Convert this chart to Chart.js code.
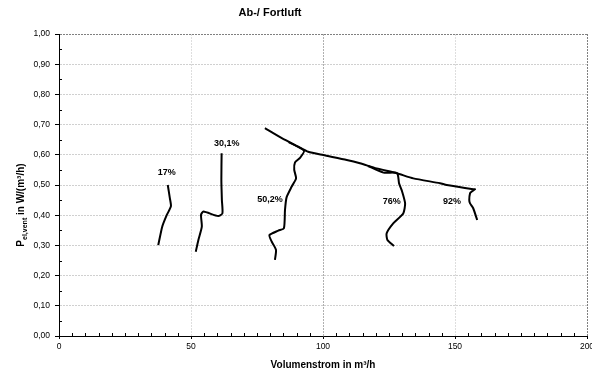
<!DOCTYPE html>
<html>
<head>
<meta charset="utf-8">
<script src="https://cdn.jsdelivr.net/npm/chart.js@4"></script>
<style>body{margin:0;background:#fff}</style>
</head>
<body>
<canvas id="chart" width="592" height="372"></canvas>
<script>
// kurven (x = Volumenstrom m3/h, y = W/(m3/h))
var curve17X = [41.2, 42.0, 42.4, 40.8, 39.1, 37.6];
var curve17Y = [0.500, 0.456, 0.430, 0.400, 0.362, 0.301];

var curve30X = [61.6, 61.5, 61.7, 61.9, 60.3, 54.7, 53.8, 54.1, 52.8, 51.8];
var curve30Y = [0.605, 0.517, 0.450, 0.406, 0.397, 0.412, 0.401, 0.362, 0.318, 0.279];

var curve50X = [87.0, 92.8, 91.3, 89.4, 89.1, 89.8, 88.1, 86.2, 85.6, 85.2, 83.1, 79.7, 80.6, 82.2, 81.8];
var curve50Y = [0.642, 0.614, 0.590, 0.575, 0.550, 0.522, 0.494, 0.459, 0.417, 0.357, 0.349, 0.334, 0.312, 0.285, 0.252];

var curve76X = [117.0, 122.9, 126.6, 128.1, 128.5, 128.8, 129.8, 131.1, 130.4, 126.6, 124.1, 124.4, 126.9];
var curve76Y = [0.563, 0.541, 0.541, 0.539, 0.527, 0.506, 0.483, 0.439, 0.406, 0.373, 0.340, 0.318, 0.298];

// obere grenzkurve, geht am ende in die 92%-kurve ueber
var curve92X = [78.0, 84.4, 90.6, 94.4, 100.1, 109.0, 114.0, 120.3, 127.9, 134.2, 144.3, 146.9, 156.9, 157.6, 156.3, 155.7, 155.4, 155.7, 156.9, 158.4];
var curve92Y = [0.688, 0.655, 0.627, 0.610, 0.599, 0.583, 0.572, 0.555, 0.539, 0.522, 0.506, 0.500, 0.486, 0.486, 0.478, 0.473, 0.450, 0.439, 0.423, 0.384];

var curveLabels = ["17%", "30,1%", "50,2%", "76%", "92%"];
var labelX = [40.8, 63.5, 79.9, 126.0, 148.9];
var labelY = [0.540, 0.638, 0.453, 0.445, 0.445];

var xTickStep = 50;
var yTickStep = 0.1;

function toPoints(xs, ys) {
    var pts = [];
    for (var i = 0; i < xs.length; i++) {
        pts.push({x: xs[i], y: ys[i]});
    }
    return pts;
}

function makeSet(label, xs, ys) {
    return {
        label: label,
        data: toPoints(xs, ys),
        showLine: true,
        borderColor: '#000',
        borderWidth: 2,
        pointRadius: 0,
        tension: 0.2
    };
}

const FONT = '"Liberation Sans", Arial, sans-serif';

// texte: titel, achsentitel, kurvenbeschriftung, kleine teilstriche
const textPlugin = {
    id: 'texts',
    afterDraw(chart) {
        const ctx = chart.ctx;
        const xs = chart.scales.x, ys = chart.scales.y;
        const area = chart.chartArea;
        ctx.save();
        ctx.fillStyle = '#000';
        ctx.strokeStyle = '#000';
        ctx.lineWidth = 1;
        ctx.setLineDash([]);

        // minor ticks
        ctx.beginPath();
        for (var v = 5; v < 200; v += 5) {
            if (v % 50 === 0) continue;
            var px = Math.round(xs.getPixelForValue(v)) + 0.5;
            ctx.moveTo(px, area.bottom);
            ctx.lineTo(px, area.bottom - 3);
        }
        for (var k = 1; k < 20; k += 2) {
            var py = Math.round(ys.getPixelForValue(k * 0.05)) + 0.5;
            ctx.moveTo(area.left, py);
            ctx.lineTo(area.left + 3, py);
        }
        ctx.stroke();

        // chart title
        ctx.textAlign = 'center';
        ctx.textBaseline = 'middle';
        ctx.font = 'bold 11px ' + FONT;
        ctx.fillText('Ab-/ Fortluft', 270, 13);

        // x title
        ctx.font = 'bold 10px ' + FONT;
        ctx.fillText('Volumenstrom in m³/h', (area.left + area.right) / 2, 365);

        // y title with subscript
        ctx.save();
        ctx.translate(20, 205);
        ctx.rotate(-Math.PI / 2);
        ctx.textAlign = 'left';
        ctx.textBaseline = 'alphabetic';
        var p1 = 'P', sub = 'el,vent', p2 = ' in W/(m³/h)';
        ctx.font = 'bold 10px ' + FONT;
        var w1 = ctx.measureText(p1).width, w3 = ctx.measureText(p2).width;
        ctx.font = 'bold 7px ' + FONT;
        var w2 = ctx.measureText(sub).width;
        var x0 = -(w1 + w2 + w3) / 2;
        ctx.font = 'bold 10px ' + FONT;
        ctx.fillText(p1, x0, 4);
        ctx.font = 'bold 7px ' + FONT;
        ctx.fillText(sub, x0 + w1, 7);
        ctx.font = 'bold 10px ' + FONT;
        ctx.fillText(p2, x0 + w1 + w2, 4);
        ctx.restore();

        // curve labels
        ctx.font = 'bold 9px ' + FONT;
        ctx.textAlign = 'center';
        ctx.textBaseline = 'middle';
        for (var i = 0; i < curveLabels.length; i++) {
            ctx.fillText(curveLabels[i], xs.getPixelForValue(labelX[i]), ys.getPixelForValue(labelY[i]));
        }
        ctx.restore();
    }
};

const config = {
    type: 'scatter',
    data: {
        datasets: [
            makeSet('17%', curve17X, curve17Y),
            makeSet('30,1%', curve30X, curve30Y),
            makeSet('50,2%', curve50X, curve50Y),
            makeSet('76%', curve76X, curve76Y),
            makeSet('92%', curve92X, curve92Y)
        ]
    },
    options: {
        responsive: false,
        animation: false,
        layout: {padding: {top: 34, right: 5, left: 0, bottom: 0}},
        plugins: {
            legend: {display: false},
            tooltip: {enabled: false}
        },
        scales: {
            x: {
                type: 'linear',
                min: 0,
                max: 200,
                ticks: {
                    stepSize: xTickStep,
                    color: '#000',
                    padding: 3,
                    font: {family: FONT, size: 8.5}
                },
                grid: {
                    color: function (c) {
                        var v = c.tick ? c.tick.value : 0;
                        if (v === 200) return '#808080';
                        if (v === 100) return '#b0b0b0';
                        return '#dedede';
                    },
                    tickLength: 3,
                    tickColor: '#000'
                },
                border: {color: '#000', width: 1, dash: [2, 1]},
                afterFit: function (s) {
                    s.height = 36;
                    s.paddingLeft = 0;
                    s.paddingRight = 0;
                }
            },
            y: {
                min: 0,
                max: 1,
                ticks: {
                    stepSize: yTickStep,
                    color: '#000',
                    padding: 5,
                    font: {family: FONT, size: 8.5},
                    callback: function (v) { return v.toFixed(2).replace('.', ','); }
                },
                grid: {
                    color: function (c) {
                        var v = c.tick ? c.tick.value : 0;
                        if (Math.abs(v - 1) < 1e-6) return '#808080';
                        return '#d0d0d0';
                    },
                    tickLength: 4,
                    tickColor: '#000'
                },
                border: {color: '#000', width: 1, dash: [2, 1]},
                afterFit: function (s) {
                    s.width = 59;
                    s.paddingTop = 0;
                    s.paddingBottom = 0;
                }
            }
        }
    },
    plugins: [textPlugin]
};

const lineChart = new Chart(document.getElementById('chart'), config);
</script>
</body>
</html>
